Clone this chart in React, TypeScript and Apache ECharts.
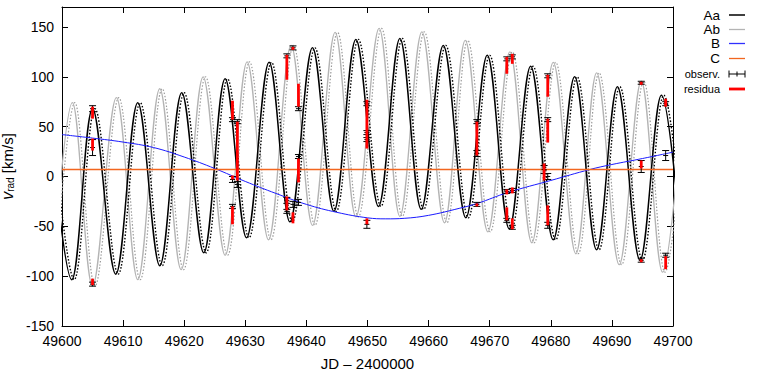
import React, { useEffect, useRef } from "react";
import * as echarts from "echarts";

// Aa (black) extrema: times and velocities
const aaT = [49597.9, 49601.6, 49605.0, 49608.8, 49612.4, 49616.0, 49619.6, 49623.2, 49626.7, 49630.2, 49633.9, 49637.3, 49641.0, 49644.5, 49648.1, 49651.8, 49655.3, 49658.8, 49662.4, 49666.1, 49669.6, 49673.2, 49676.7, 49680.4, 49683.9, 49687.5, 49690.9, 49694.6, 49698.1, 49701.7];
const aaV = [62, -103.5, 68, -98, 74, -89.5, 84, -76.5, 98, -61.5, 114.5, -45.5, 129, -35, 137.5, -30, 138.5, -33, 131.5, -41.5, 121.5, -52.5, 110.5, -63.5, 100, -73.5, 90, -84, 81.5, -93];

// Ab (gray) extrema
const abT = [49598.3, 49601.7, 49605.0, 49608.9, 49612.4, 49616.0, 49619.5, 49623.1, 49626.7, 49630.3, 49633.8, 49637.5, 49641.0, 49644.7, 49648.1, 49651.9, 49655.3, 49658.9, 49662.6, 49666.0, 49669.7, 49673.3, 49676.9, 49680.4, 49684.1, 49687.5, 49691.2, 49694.8, 49698.3, 49701.8];
const abV = [-114, 74, -110, 79, -103.5, 88, -93.5, 100, -79, 115, -63.5, 131.5, -49, 144.5, -40.5, 148.5, -40, 145, -46.5, 136.5, -55.5, 125, -66.5, 114.5, -77.5, 104, -88.5, 95.5, -96, 88];

// phase offset of the dotted model curves (days)
const DOT_SHIFT = 0.4;

// B (blue)
const bT = [49600, 49605, 49610, 49615, 49620, 49625, 49630, 49635, 49640, 49645, 49650, 49653, 49656, 49660, 49665, 49668, 49673, 49680, 49686.4, 49690, 49695, 49700];
const bV = [42, 38.5, 34.5, 29, 19.5, 8, -5, -17, -28, -36, -41.5, -42.5, -42, -39, -32, -27, -16, -4, 7, 12, 18, 24.4];

// C (orange)
const cT = [49600, 49700];
const cV = [7, 7];

// observations with error bars
const obsT = [49605.0, 49605.0, 49605.0, 49627.9, 49627.9, 49627.9, 49628.7, 49628.7, 49636.8, 49636.8, 49636.8, 49637.8, 49637.8, 49638.7, 49638.7, 49638.7, 49649.9, 49649.9, 49649.9, 49649.9, 49667.9, 49667.9, 49667.9, 49672.8, 49672.8, 49672.8, 49673.7, 49673.7, 49673.7, 49679.5, 49679.5, 49678.9, 49679.5, 49679.5, 49694.8, 49694.8, 49694.8, 49698.8, 49698.8, 49698.8];
const obsV = [68, 29, -108, 57, -3, -30, 55, -8, 121, -24, -35, 129, -28, 68, 20, -26, 73, 44, 37, -48, 55, 23, -28, 118, -15, -44, 120, -14, -51, 101, 57, 7, 0, -49, 94, 10, -84, 73, 21, -79];
const obsErr = [3, 8, 2, 2, 3, 2, 2, 3, 2, 3, 2, 2, 3, 2, 2, 3, 2, 2, 2, 4, 2, 3, 2, 2, 2, 2, 2, 2, 2, 2, 2, 4, 3, 3, 1.5, 6, 2, 2, 5, 2];

// residua (red bars): time, from, to
const resT = [49605.0, 49605.0, 49605.0, 49627.9, 49627.9, 49627.9, 49628.7, 49636.8, 49636.8, 49637.8, 49637.8, 49638.7, 49638.7, 49649.9, 49649.9, 49667.9, 49667.9, 49672.8, 49672.8, 49672.8, 49673.7, 49673.7, 49673.7, 49679.5, 49679.5, 49679.5, 49678.9, 49694.8, 49694.8, 49694.8, 49698.8, 49698.8];
const resFrom = [70, 38, -102.5, 76, 1, -30, 55, 122, -20, 130, -36, 93, 18, 77, -42, 55, -27, 120, -13, -31, 123, -11, -42, 102, 58, -29, 13, 95, 16, -83, 78, -80];
const resTo = [58, 26, -109, 57, -3, -48, -4, 97, -34, 127, -47, 70, -6, 28, -48, 21, -30, 103, -18, -44, 113, -17, -53, 80, 34, -49, -4, 92, 8, -86, 70, -93];

const xMin = 49600;
const xMax = 49700;
const yMin = -150;
const yMax = 170;

const FONT = "Liberation Sans, Arial, Helvetica, sans-serif";

export default function App() {
  const ref = useRef<HTMLDivElement>(null);
  useEffect(() => {
    if (!ref.current) return;
    const chart = echarts.init(ref.current, undefined, { renderer: "svg" });
    const pairs = (t: number[], v: number[], s = 0) => t.map((x, i) => [x + s, v[i]]);
    const axisCommon = {
      type: "value" as const,
      axisLine: { show: true, onZero: false, lineStyle: { color: "#000", width: 1 } },
      axisTick: { show: true, inside: true, length: 6, lineStyle: { color: "#000" } },
      splitLine: { show: false },
    };
    const legendLine = (y: number, color: string, width = 1.3) => ({
      type: "line",
      shape: { x1: 729, y1: y, x2: 745, y2: y },
      style: { stroke: color, lineWidth: width },
    });
    const legendText = (y: number, text: string, size: number) => ({
      type: "text",
      x: 720,
      y,
      style: { text, fill: "#000", fontSize: size, fontFamily: FONT, align: "right", verticalAlign: "middle" },
    });
    chart.setOption({
      animation: false,
      backgroundColor: "#fff",
      grid: { left: 62, right: 90, top: 7, bottom: 47, containLabel: false, outerBoundsMode: "none" },
      xAxis: [
        {
          ...axisCommon,
          min: xMin,
          max: xMax,
          interval: 10,
          position: "bottom",
          axisLabel: { color: "#000", fontSize: 14, fontFamily: FONT, margin: 8, formatter: (v: number) => String(v) },
          name: "JD – 2400000",
          nameLocation: "middle",
          nameGap: 30,
          nameTextStyle: { color: "#000", fontSize: 15, fontFamily: FONT },
        },
        {
          ...axisCommon,
          min: xMin,
          max: xMax,
          interval: 10,
          position: "top",
          axisLabel: { show: false },
        },
      ],
      yAxis: [
        {
          ...axisCommon,
          min: yMin,
          max: yMax,
          interval: 50,
          position: "left",
          axisLabel: { color: "#000", fontSize: 14, fontFamily: FONT, margin: 8, showMaxLabel: false },
          name: "{i|v}{s|rad} [km/s]",
          nameLocation: "middle",
          nameGap: 37,
          nameRotate: 90,
          nameTextStyle: {
            color: "#000",
            fontSize: 15,
            fontFamily: FONT,
            rich: {
              i: { fontStyle: "italic", fontSize: 16, fontFamily: FONT, color: "#000" },
              s: { fontSize: 10, fontFamily: FONT, color: "#000", verticalAlign: "bottom", lineHeight: 14, padding: [6, 0, 0, 0] },
            },
          },
        },
        {
          ...axisCommon,
          min: yMin,
          max: yMax,
          interval: 50,
          position: "right",
          axisLabel: { show: false },
        },
      ],
      series: [
        {
          type: "line",
          data: pairs(abT, abV, DOT_SHIFT),
          smooth: 0.36,
          showSymbol: false,
          lineStyle: { color: "#9a9a9a", width: 1.2, type: [1.5, 1.8] },
          z: 1,
        },
        {
          type: "line",
          data: pairs(abT, abV),
          smooth: 0.36,
          showSymbol: false,
          lineStyle: { color: "#b4b4b4", width: 1.3 },
          z: 1,
        },
        {
          type: "line",
          data: pairs(aaT, aaV, DOT_SHIFT),
          smooth: 0.36,
          showSymbol: false,
          lineStyle: { color: "#000", width: 1.4, type: [1.5, 1.8] },
          z: 2,
        },
        {
          type: "line",
          data: pairs(aaT, aaV),
          smooth: 0.36,
          showSymbol: false,
          lineStyle: { color: "#000", width: 1.5 },
          z: 2,
        },
        {
          type: "line",
          data: pairs(bT, bV),
          smooth: 0.4,
          showSymbol: false,
          lineStyle: { color: "#1a1aff", width: 1 },
          z: 3,
        },
        {
          type: "line",
          data: pairs(cT, cV),
          showSymbol: false,
          lineStyle: { color: "#f2661f", width: 1.3 },
          z: 3,
        },
        {
          type: "custom",
          data: obsT.map((t, i) => [t, obsV[i], obsErr[i]]),
          encode: { x: 0, y: 1 },
          z: 4,
          renderItem: (params: any, api: any) => {
            const t = api.value(0);
            const v = api.value(1);
            const e = api.value(2);
            const top = api.coord([t, v + e]);
            const bot = api.coord([t, v - e]);
            const mid = api.coord([t, v]);
            const x = mid[0];
            const st = { stroke: "#000", lineWidth: 1 };
            return {
              type: "group",
              children: [
                { type: "line", shape: { x1: x, y1: top[1], x2: x, y2: bot[1] }, style: st },
                { type: "line", shape: { x1: x - 3.5, y1: top[1], x2: x + 3.5, y2: top[1] }, style: st },
                { type: "line", shape: { x1: x - 3.5, y1: bot[1], x2: x + 3.5, y2: bot[1] }, style: st },
                { type: "line", shape: { x1: x - 2.5, y1: mid[1], x2: x + 2.5, y2: mid[1] }, style: st },
              ],
            };
          },
        },
        {
          type: "custom",
          data: resT.map((t, i) => [t, resFrom[i], resTo[i]]),
          encode: { x: 0, y: [1, 2] },
          z: 5,
          renderItem: (params: any, api: any) => {
            const t = api.value(0);
            const a = api.coord([t, api.value(1)]);
            const b = api.coord([t, api.value(2)]);
            return {
              type: "line",
              shape: { x1: a[0], y1: a[1], x2: b[0], y2: b[1] },
              style: { stroke: "#ff0000", lineWidth: 2.8 },
            };
          },
        },
      ],
      graphic: [
        legendText(15, "Aa", 13.5),
        legendLine(15, "#000", 1.5),
        legendText(29.5, "Ab", 13.5),
        legendLine(29.5, "#b4b4b4"),
        legendText(43.5, "B", 13.5),
        legendLine(43.5, "#3030ff", 1.3),
        legendText(58.5, "C", 13.5),
        legendLine(58.5, "#f2661f"),
        legendText(74, "observ.", 11),
        legendLine(74, "#000", 1),
        { type: "line", shape: { x1: 729, y1: 70.5, x2: 729, y2: 77.5 }, style: { stroke: "#000", lineWidth: 1 } },
        { type: "line", shape: { x1: 745, y1: 70.5, x2: 745, y2: 77.5 }, style: { stroke: "#000", lineWidth: 1 } },
        { type: "line", shape: { x1: 737, y1: 71.5, x2: 737, y2: 76.5 }, style: { stroke: "#000", lineWidth: 1 } },
        legendText(89, "residua", 11),
        legendLine(89, "#ff0000", 2.8),
      ],
    });
    return () => chart.dispose();
  }, []);
  return (
    <div
      ref={ref}
      style={{ position: "absolute", left: 0, top: 0, width: 763, height: 373, background: "#fff" }}
    />
  );
}
